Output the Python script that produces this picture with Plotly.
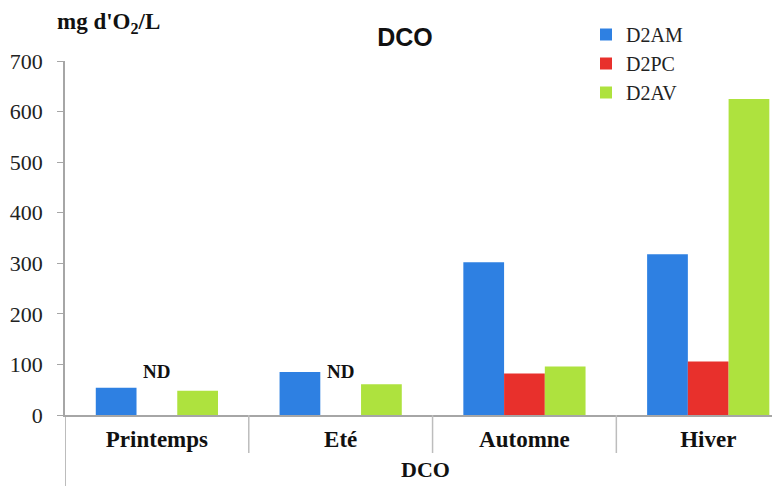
import plotly.graph_objects as go

categories = ["Printemps", "Eté", "Automne", "Hiver"]
series_names = ["D2AM", "D2PC", "D2AV"]
d2am = [54, 85, 302, 318]
d2pc = [None, None, 82, 106]
d2av = [48, 61, 96, 625]
nd_labels = ["ND", "ND", "", ""]
y_ticks = [0, 100, 200, 300, 400, 500, 600, 700]

colors = ["#2E80E2", "#E8302C", "#AEE23E"]
serif = "Liberation Serif, Times New Roman, serif"

# page body has an 8px margin: work in screen pixels and shift
OFF = 8
W, H = 780, 494
L = 65 - OFF
T = 61 - OFF
B = H - (415 - OFF)
R = 0
pw, ph = W - L - R, H - T - B


def px_x(sx):
    return (sx - OFF - L) / pw


def px_y(sy):
    return (T + ph - (sy - OFF)) / ph


fig = go.Figure()
for i, (name, vals) in enumerate(zip(series_names, [d2am, d2pc, d2av])):
    fig.add_trace(go.Bar(
        x=categories, y=vals, name=name, marker=dict(color=colors[i], line=dict(width=0)),
        legendgroup=name,
    ))

for cat, lab in zip(categories, nd_labels):
    if lab:
        fig.add_annotation(x=cat, y=87, xref="x", yref="y", text="<b>%s</b>" % lab,
                           showarrow=False, yanchor="middle",
                           font=dict(family=serif, size=19, color="#111"))

shapes = []
for k in range(1, len(categories)):
    shapes.append(dict(type="line", xref="x", yref="paper", x0=k - 0.5, x1=k - 0.5,
                       ysizemode="pixel", yanchor=0, y0=0, y1=-38,
                       line=dict(color="#BDBDBD", width=1.5)))
shapes.append(dict(type="line", xref="x", yref="paper", x0=-0.5, x1=-0.5,
                   ysizemode="pixel", yanchor=0, y0=0, y1=-80,
                   line=dict(color="#A6A6A6", width=1.5)))

fig.update_layout(
    width=W, height=H,
    margin=dict(l=L, r=R, t=T, b=B, autoexpand=False),
    paper_bgcolor="white", plot_bgcolor="white",
    barmode="group", bargap=0.335, bargroupgap=0,
    title=dict(text="<b>DCO</b>", x=px_x(405), xref="paper", xanchor="center",
               y=1 - (37 - OFF) / H, yanchor="middle",
               font=dict(family="Liberation Sans, Arial, sans-serif", size=25, color="#111")),
    legend=dict(x=px_x(586), y=px_y(15), xanchor="left", yanchor="top",
                bgcolor="rgba(0,0,0,0)",
                font=dict(family=serif, size=20, color="#222"), tracegroupgap=0,
                itemwidth=30),
    shapes=shapes,
    showlegend=True,
)
fig.update_xaxes(
    range=[-0.5, 3.5 - 12 / 182], showline=True, linecolor="#A6A6A6", linewidth=1.5,
    ticks="", showgrid=False, ticklabelstandoff=3,
    tickfont=dict(family=serif, size=23, color="#111"),
    tickvals=categories, ticktext=["<b>%s</b>" % c for c in categories],
)
fig.update_yaxes(
    range=[0, 700], tickvals=y_ticks, showline=True, linecolor="#A6A6A6", linewidth=1.5,
    ticks="outside", ticklen=6, tickcolor="#A6A6A6", showgrid=False, zeroline=False,
    ticklabelstandoff=10,
    tickfont=dict(family=serif, size=22, color="#222"),
)
fig.add_annotation(x=px_x(55), y=px_y(23), xref="paper", yref="paper",
                   text="<b>mg d'O<sub>2</sub>/L</b>",
                   showarrow=False, xanchor="left", yanchor="middle",
                   font=dict(family=serif, size=23, color="#111"))
fig.add_annotation(x=px_x(425), y=px_y(469), xref="paper", yref="paper",
                   text="<b>DCO</b>",
                   showarrow=False, xanchor="center", yanchor="middle",
                   font=dict(family=serif, size=22, color="#111"))
fig.write_html("out.html")
